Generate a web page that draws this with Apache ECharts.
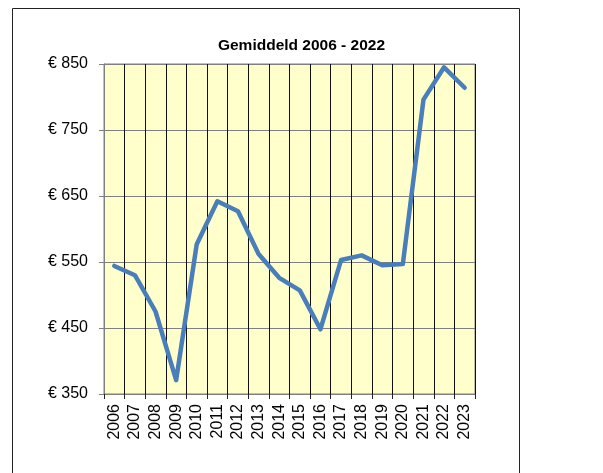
<!DOCTYPE html>
<html>
<head>
<meta charset="utf-8">
<script src="https://cdn.jsdelivr.net/npm/echarts@6/dist/echarts.min.js"></script>
<style>
html,body{margin:0;padding:0;background:#fff;}
#chart{width:603px;height:473px;}
</style>
</head>
<body>
<div id="chart"></div>
<script>
var years = ['2006','2007','2008','2009','2010','2011','2012','2013','2014','2015','2016','2017','2018','2019','2020','2021','2022','2023'];
var values = [544, 530, 475, 371, 577, 642, 627, 562, 526, 507, 448, 553, 560, 545, 547, 796, 845, 814];
var titleText = 'Gemiddeld 2006 - 2022';

var chart = echarts.init(document.getElementById('chart'), null, {renderer:'canvas'});
chart.setOption({
  animation: false,
  backgroundColor: '#fff',
  title: {
    text: titleText,
    left: 'center', top: 33,
    textStyle: {fontFamily: 'Liberation Sans, Arial', fontSize: 15.5, fontWeight: 'bold', color: '#000'}
  },
  graphic: [{
    type: 'rect', shape: {x: 12.5, y: 8.5, width: 507, height: 480},
    style: {fill: null, stroke: '#222', lineWidth: 1}, silent: true, z: -1
  }],
  grid: {left: 104, right: 128, top: 64, bottom: 79, show: true, backgroundColor: '#FFFFCC', borderColor: '#808080', borderWidth: 1},
  xAxis: {
    type: 'category', data: years, boundaryGap: true,
    axisLine: {show: true, lineStyle: {color: '#808080', width: 1}},
    axisTick: {show: true, length: 5, inside: false, lineStyle: {color: '#222'}, alignWithLabel: false},
    splitLine: {show: true, interval: 0, lineStyle: {color: '#111', width: 1}},
    axisLabel: {rotate: 90, interval: 0, margin: 10, color: '#000', fontSize: 16, fontFamily: 'Liberation Sans, Arial'}
  },
  yAxis: {
    type: 'value', min: 350, max: 850, interval: 100,
    axisLine: {show: true, lineStyle: {color: '#808080', width: 1}},
    axisTick: {show: true, length: 5, lineStyle: {color: '#808080'}},
    splitLine: {show: true, lineStyle: {color: '#808080', width: 1}},
    axisLabel: {formatter: '€ {value}', color: '#000', fontSize: 16, margin: 16, fontFamily: 'Liberation Sans, Arial'}
  },
  series: [{
    type: 'line', data: values, showSymbol: false, symbol: 'none', smooth: false,
    lineStyle: {color: '#4A7EBB', width: 4.5, join: 'round', cap: 'round'}
  }]
});
</script>
</body>
</html>
